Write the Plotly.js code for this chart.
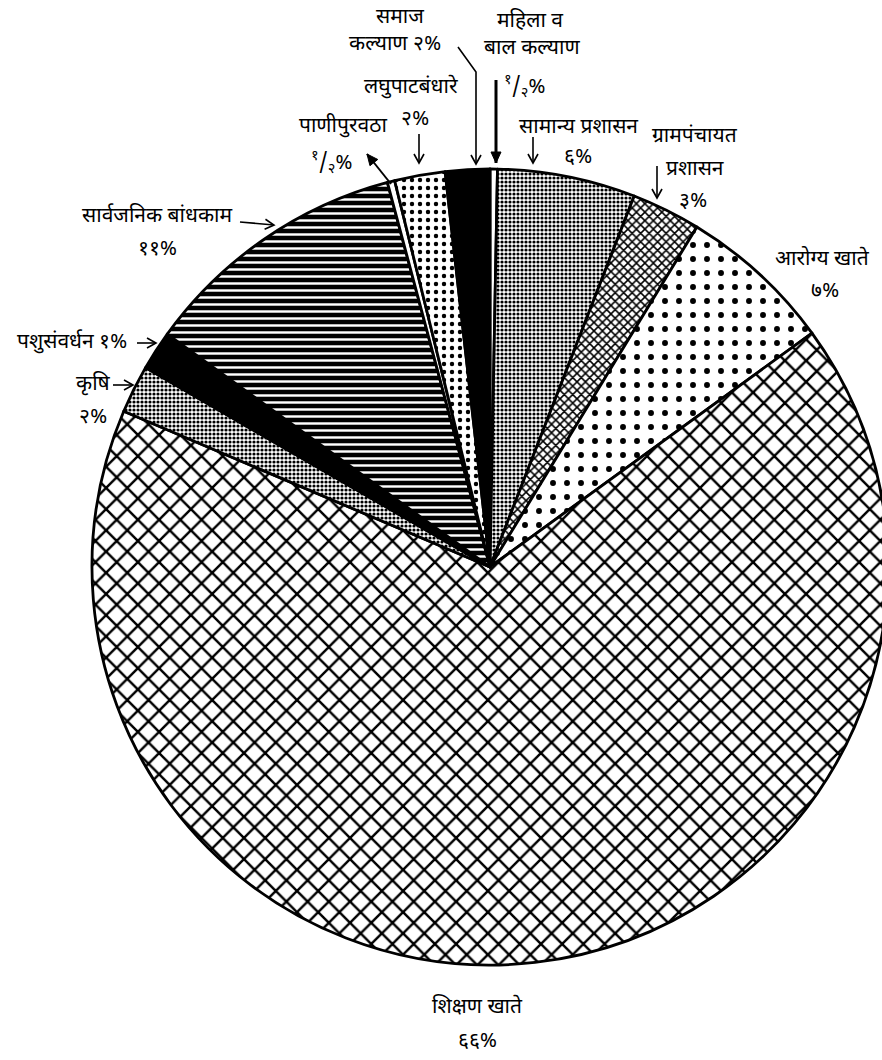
<!DOCTYPE html>
<html>
<head>
<meta charset="utf-8">
<script src="https://cdn.plot.ly/plotly-3.0.1.min.js"></script>
<style>html,body{margin:0;padding:0;background:#fff;overflow:hidden;}#chart{width:900px;height:1060px;}</style>
</head>
<body>
<div id="chart"></div>
<script>
// ---- data (clockwise from 12 o'clock) ----
const categories = ['महिला व बाल कल्याण','सामान्य प्रशासन','ग्रामपंचायत प्रशासन','आरोग्य खाते','शिक्षण खाते','कृषि','पशुसंवर्धन','सार्वजनिक बांधकाम','पाणीपुरवठा','लघुपाटबंधारे','समाज कल्याण'];
const values = [0.3, 5.6, 2.8, 6.3, 66.4, 1.95, 1.6, 10.9, 0.3, 2.05, 1.8];
const pctLabels = ['<sup>१</sup>/<sub>२</sub>%','६%','३%','७%','६६%','२%','१%','११%','<sup>१</sup>/<sub>२</sub>%','२%','२%'];

// ---- styles ----
const patShape = ['', '.', 'x', '.', 'x', '.', '', '-', '', '.', ''];
const patFg    = ['#000','#000','#000','#000','#000','#000','#000','#fff','#000','#000','#000'];
const patBg    = ['#fff','#fff','#fff','#fff','#fff','#fff','#000','#000','#fff','#fff','#000'];
const patSize  = [8, 4, 6, 14, 15, 4, 8, 7, 8, 8, 8];
const patSol   = [0.3, 0.5, 0.45, 0.14, 0.3, 0.5, 0.3, 0.35, 0.3, 0.24, 0.3];

const W = 900, H = 1060;   // plot is slightly wider than the 882px window (pie is cut at right)
const P = (px, py) => ({x: px / W, y: 1 - py / H});
const FONT = {family: "'Noto Sans Devanagari','Noto Sans',sans-serif", size: 21, color: '#000'};

function txt(s, px, py) {
  const p = P(px, py);
  return {x: p.x, y: p.y, xref: 'paper', yref: 'paper', text: s, showarrow: false,
    font: FONT, xanchor: 'center', yanchor: 'middle'};
}

const shapes = [];
// arrow from tail (tx,ty) to head (hx,hy), in page pixels; pts = optional earlier bend points
function arrow(tx, ty, hx, hy, w, filled, pts) {
  w = w || 1.6;
  const line = (pts || []).concat([[tx, ty], [hx, hy]]);
  let d = '';
  line.forEach((q, i) => { const p = P(q[0], q[1]); d += (i ? ' L ' : 'M ') + p.x + ',' + p.y; });
  shapes.push({type: 'path', xref: 'paper', yref: 'paper', path: d, line: {color: '#000', width: w}});
  const dx = hx - tx, dy = hy - ty, L = Math.hypot(dx, dy), ux = dx / L, uy = dy / L;
  const hl = filled ? 11 : 9, hw = 5;
  const b1 = [hx - ux * hl - uy * hw, hy - uy * hl + ux * hw];
  const b2 = [hx - ux * hl + uy * hw, hy - uy * hl - ux * hw];
  const h = P(hx, hy), p1 = P(b1[0], b1[1]), p2 = P(b2[0], b2[1]);
  const hp = 'M ' + p1.x + ',' + p1.y + ' L ' + h.x + ',' + h.y + ' L ' + p2.x + ',' + p2.y;
  if (filled) {
    shapes.push({type: 'path', xref: 'paper', yref: 'paper', path: hp + ' Z',
      fillcolor: '#000', line: {color: '#000', width: 1}});
  } else {
    shapes.push({type: 'path', xref: 'paper', yref: 'paper', path: hp, line: {color: '#000', width: w}});
  }
}

const annotations = [
  txt('समाज', 400, 18), txt('कल्याण ' + pctLabels[10], 395, 45),
  txt('महिला व', 530, 22), txt('बाल कल्याण', 532, 49), txt(pctLabels[0], 525, 87),
  txt('लघुपाटबंधारे', 411, 88), txt(pctLabels[9], 415, 120),
  txt('पाणीपुरवठा', 343, 127), txt(pctLabels[8], 332, 163),
  txt('सामान्य प्रशासन', 578, 128), txt(pctLabels[1], 578, 158),
  txt('ग्रामपंचायत', 695, 137), txt('प्रशासन', 695, 170), txt(pctLabels[2], 693, 202),
  txt(categories[3], 822, 260), txt(pctLabels[3], 825, 292),
  txt('सार्वजनिक बांधकाम', 157, 217), txt(pctLabels[7], 157, 250),
  txt('पशुसंवर्धन ' + pctLabels[6], 72, 343),
  txt(categories[5], 93, 385), txt(pctLabels[5], 93, 418),
  txt(categories[4], 477, 1008), txt(pctLabels[4], 477, 1042)
];

arrow(476, 72, 476, 164, 1.6, false, [[458, 47]]);   // समाज कल्याण (bent)
arrow(496, 80, 496, 163, 3, true);                  // महिला व बाल कल्याण
arrow(419, 134, 419, 163);                          // लघुपाटबंधारे
arrow(391, 184, 367, 154, 2, true);                 // पाणीपुरवठा
arrow(533, 137, 533, 163);                          // सामान्य प्रशासन
arrow(657, 166, 657, 198);                          // ग्रामपंचायत
arrow(240, 222, 274, 225);                          // सार्वजनिक बांधकाम
arrow(137, 343, 156, 343);                          // पशुसंवर्धन
arrow(113, 385, 133, 385);                          // कृषि

const cx = 490, cy = 567, r = 398;
const trace = {
  type: 'pie',
  labels: categories,
  values: values,
  sort: false,
  direction: 'clockwise',
  rotation: 0,
  textinfo: 'none',
  hoverinfo: 'label+percent',
  domain: {x: [(cx - r) / W, (cx + r) / W], y: [(H - cy - 430) / H, (H - cy + 430) / H]},
  marker: {
    colors: patBg,
    line: {color: '#000', width: 2.8},
    pattern: {shape: patShape, fgcolor: patFg, bgcolor: patBg, size: patSize, solidity: patSol, fillmode: 'replace'}
  }
};

Plotly.newPlot('chart', [trace], {
  width: W, height: H,
  margin: {l: 0, r: 0, t: 0, b: 0},
  paper_bgcolor: '#fff',
  showlegend: false,
  annotations: annotations,
  shapes: shapes
}, {displayModeBar: false, staticPlot: true});
</script>
</body>
</html>
